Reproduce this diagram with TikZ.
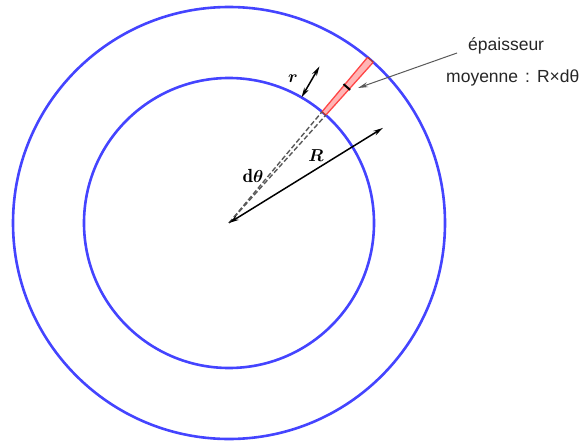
\documentclass[tikz,border=0pt]{standalone}
\usepackage{amsmath,amssymb}
\usepackage{fontspec}
\newfontfamily\notefont{Liberation Sans}
\usetikzlibrary{arrows.meta}
\definecolor{ringblue}{RGB}{68,68,255}
\definecolor{stripred}{RGB}{255,70,70}

\begin{document}
\begin{tikzpicture}[x=1pt,y=1pt,>={Stealth[length=10pt,width=5pt]},
  ring/.style={draw=ringblue,line width=2.6pt},
  radius line/.style={<->,line width=1.5pt},
  dashline/.style={draw=black!65,line width=1.4pt,dash pattern=on 5pt off 2.5pt},
  mathlabel/.style={font=\fontsize{19}{21}\selectfont\boldmath},
  note/.style={font=\notefont\fontsize{17.5}{20}\selectfont,text=black!85,anchor=base west,inner sep=0pt}]
\useasboundingbox (0,0) rectangle (585,440);
\coordinate (O) at (229,217);
\draw[ring] (O) circle[radius=145];
\draw[ring] (O) circle[radius=216];
\begin{scope}[shift={(O)}]
% the thin strip d theta wide
\coordinate (s1) at (48.1:145);
\coordinate (s2) at (48.1:216);
\coordinate (s3) at (50.1:216);
\coordinate (s4) at (50.1:145);
\fill[stripred!40] (s1) -- (s2) -- (s3) -- (s4) -- cycle;
\draw[stripred,line width=1.3pt] (s1) -- (s2) (s3) -- (s4);
\draw[stripred!70!black,line width=1.3pt] (s1) -- (s4) (s2) -- (s3);
\coordinate (m1) at (47.7:180);
\coordinate (m2) at (50.5:180);
\draw[line width=2pt] (m1) -- (m2);
\coordinate (Rend) at (31.7:181);
\coordinate (r1) at (60:145);
\coordinate (r2) at (60:181);
\end{scope}
\draw[dashline] (O) -- (s1);
\draw[dashline] (O) -- (s4);
\draw[radius line] (O) -- (Rend);
\draw[radius line] (r1) -- (r2);
\node[mathlabel] (Rlab) at (316,284) {$R$};
\node[mathlabel] (rlab) at (293,361) {$r$};
\node[mathlabel] (dlab) at (253,264) {$\mathrm{d}\theta$};
% annotation
\node[note] (t1) at (468,389) {épaisseur};
\node[note] (t2) at (446,357) {moyenne\hspace{0.4em}:\hspace{0.4em}R×dθ};
\coordinate (a1) at (457,387);
\coordinate (a2) at (358,352);
\draw[->,draw=black!65,line width=1pt] (a1) -- (a2);
\end{tikzpicture}
\end{document}
